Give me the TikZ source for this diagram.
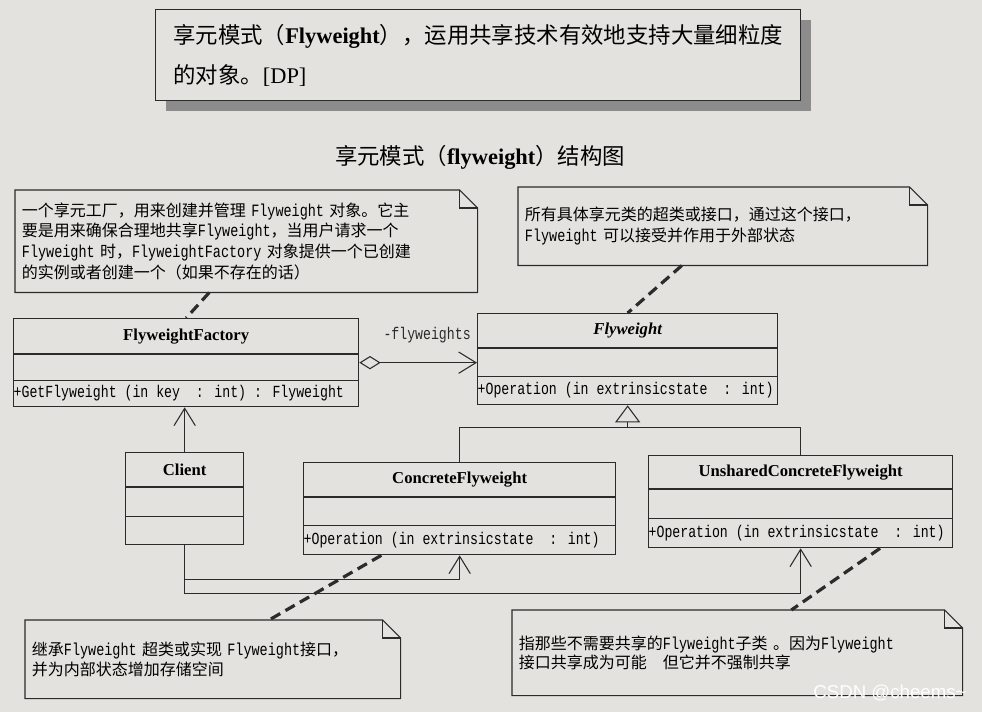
\documentclass[tikz,border=0pt]{standalone}
\usepackage{fontspec}
\setmainfont{Liberation Serif}
\newfontfamily\cjk{Noto Sans CJK SC}
\newfontfamily\codefont[FakeStretch=0.78]{Liberation Mono}
\newfontfamily\notecode[FakeStretch=0.78,Scale=1.08]{Liberation Mono}
\newfontfamily\markfont{Liberation Sans}
\usepackage{tikz}
\usetikzlibrary{arrows.meta,calc,shapes.multipart,shadows}
\definecolor{paper}{HTML}{E4E2DE}
\definecolor{ink}{HTML}{2B2B2B}
\definecolor{shade}{HTML}{8C8C8C}
\newcommand{\umlpart}[3]{\parbox[c][#2][c]{#1}{#3}}
\newcommand{\clsfont}{\fontsize{12.5}{14}\selectfont\bfseries}
\newcommand{\opfont}{\fontsize{12.7}{13}\codefont}
\newcommand{\nc}[1]{{\notecode #1}}

\begin{document}
\begin{tikzpicture}[x=0.75pt,y=-0.75pt,
    umlclass/.style={draw=ink,line width=1pt,rectangle split,rectangle split parts=3,
      inner sep=0pt,anchor=north west},
    notebox/.style={anchor=north west,align=left,inner xsep=5pt,inner ysep=0pt,
      font=\fontsize{12}{15.5}\selectfont\cjk},
    notelink/.style={ink,line width=2.4pt,dash pattern=on 8pt off 4.5pt},
    conn/.style={ink,line width=0.8pt},
    agg/.style={conn,{Diamond[open,length=16pt,width=10pt]}-{Straight Barb[length=13pt,width=16pt]}},
    dep/.style={conn,-{Straight Barb[length=13pt,width=16pt]}},
    gen/.style={conn,-{Triangle[open,length=12.75pt,width=18.75pt]}}]
  \useasboundingbox (0,0) rectangle (982,712);
  \fill[paper] (0,0) rectangle (982,712);

  \node[draw=ink,line width=1pt,fill=paper,anchor=north west,align=left,
      minimum width=483.75pt,minimum height=68.25pt,
      font=\fontsize{16.8}{30}\selectfont\cjk,
      drop shadow={shadow xshift=7.5pt,shadow yshift=-8pt,fill=shade,opacity=1}]
      (topbox) at (155,9)
      {享元模式（\textrm{\textbf{Flyweight}}），运用共享技术有效地支持大量细粒度\\的对象。\textrm{[DP]}};
  \node[font=\fontsize{16.8}{20}\selectfont\cjk] (title) at (480,157)
      {享元模式（\textrm{\textbf{flyweight}}）结构图};

  \node[umlclass] (factory) at (13,318)
      {\umlpart{258.75pt}{25.5pt}{\centering\clsfont FlyweightFactory}%
       \nodepart{two}\umlpart{258.75pt}{18.75pt}{}%
       \nodepart{three}\umlpart{258.75pt}{18.75pt}{\opfont +GetFlyweight (in key\ \ : int) : Flyweight}};
  \node[umlclass] (flyweight) at (477,313)
      {\umlpart{225pt}{24.75pt}{\centering\clsfont\itshape Flyweight}%
       \nodepart{two}\umlpart{225pt}{20.25pt}{}%
       \nodepart{three}\umlpart{225pt}{20.25pt}{\opfont +Operation (in extrinsicstate\ \ : int)}};
  \node[umlclass] (client) at (125,452)
      {\umlpart{88.5pt}{24.75pt}{\centering\clsfont Client}%
       \nodepart{two}\umlpart{88.5pt}{21pt}{}%
       \nodepart{three}\umlpart{88.5pt}{20.25pt}{}};
  \node[umlclass] (concrete) at (303,462)
      {\umlpart{234pt}{24.75pt}{\centering\clsfont ConcreteFlyweight}%
       \nodepart{two}\umlpart{234pt}{20.25pt}{}%
       \nodepart{three}\umlpart{234pt}{21pt}{\opfont +Operation (in extrinsicstate\ \ : int)}};
  \node[umlclass] (unshared) at (648,455)
      {\umlpart{228pt}{24pt}{\centering\clsfont UnsharedConcreteFlyweight}%
       \nodepart{two}\umlpart{228pt}{21pt}{}%
       \nodepart{three}\umlpart{228pt}{21pt}{\opfont +Operation (in extrinsicstate\ \ : int)}};

  \node[notebox,text width=336.5pt,minimum height=76.5pt] (factorynote) at (15,190)
      {一个享元工厂，用来创建并管理 \nc{Flyweight} 对象。它主\\
       要是用来确保合理地共享\nc{Flyweight}，当用户请求一个\\
       \nc{Flyweight} 时，\nc{FlyweightFactory} 对象提供一个已创建\\
       的实例或者创建一个（如果不存在的话）};
  \node[notebox,text width=296.75pt,minimum height=58.5pt] (flynote) at (518,187)
      {所有具体享元类的超类或接口，通过这个接口，\\
       \nc{Flyweight} 可以接受并作用于外部状态};
  \node[notebox,text width=271.25pt,minimum height=58.5pt] (concretenote) at (25,620)
      {继承\nc{Flyweight} 超类或实现 \nc{Flyweight}接口，\\
       并为内部状态增加存储空间};
  \node[notebox,text width=327.5pt,minimum height=63.75pt,
      font=\fontsize{12}{14}\selectfont\cjk] (unsharednote) at (512,610)
      {指那些不需要共享的\nc{Flyweight}子类 。因为\nc{Flyweight}\\
       接口共享成为可能\quad 但它并不强制共享};
  \foreach \n in {factorynote,flynote,concretenote,unsharednote}{
    \draw[ink,line width=0.8pt] (\n.north west) -- ([xshift=-13.5pt]\n.north east)
        -- ([yshift=-13.5pt]\n.north east) -- (\n.south east) -- (\n.south west) -- cycle;
    \draw[ink,line width=0.8pt] ([xshift=-13.5pt]\n.north east) |- ([yshift=-13.5pt]\n.north east);
  }

  \draw[notelink] ($(factorynote.south west)!0.42!(factorynote.south east)$) -- (factory.north);
  \draw[notelink] ($(flynote.south west)!0.40!(flynote.south east)$) -- (flyweight.north);
  \draw[notelink] ($(concrete.south west)!0.25!(concrete.south east)$)
      -- ($(concretenote.north west)!0.65!(concretenote.north east)$);
  \draw[notelink] ($(unshared.south west)!0.76!(unshared.south east)$)
      -- ($(unsharednote.north west)!0.62!(unsharednote.north east)$);

  \draw[agg] (factory.east) -- (factory.east -| flyweight.west)
      node[pos=1,anchor=east,yshift=21pt,xshift=-1pt,font=\opfont] (flylabel) {-flyweights};
  \coordinate (bus) at ($(flyweight.south)+(0,22)$);
  \draw[gen] (bus) -- (flyweight.south);
  \draw[conn] (concrete.north) |- (bus) -| (unshared.north);
  \draw[dep] (client.north) -- (client.north |- factory.south);
  \draw[dep] (client.south) -- ++(0,34) -| (concrete.south);
  \draw[dep] (client.south) -- ++(0,48) -| (unshared.south);

  \node[font=\fontsize{14}{16}\selectfont\markfont,text=white] (mark) at (890,693)
      {CSDN @cheems\textasciitilde};
\end{tikzpicture}
\end{document}
